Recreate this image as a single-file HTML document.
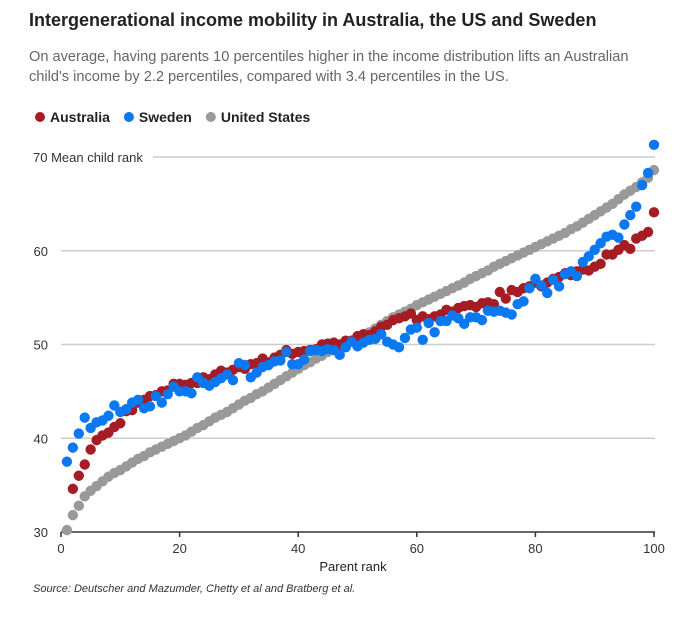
<!DOCTYPE html>
<html><head><meta charset="utf-8"><style>
body{margin:0;background:#fff;font-family:"Liberation Sans",sans-serif;}
#wrap{position:relative;width:691px;height:617px;overflow:hidden;}
.t{position:absolute;white-space:nowrap;}
</style></head><body>
<div id="wrap">
<div class="t" style="left:29px;top:10px;font-size:18px;font-weight:bold;color:#222;">Intergenerational income mobility in Australia, the US and Sweden</div>
<div class="t" style="left:29px;top:47px;font-size:14.6px;line-height:20px;color:#666;">On average, having parents 10 percentiles higher in the income distribution lifts an Australian<br>child's income by 2.2 percentiles, compared with 3.4 percentiles in the US.</div>
<svg id="chart" width="691" height="617" style="position:absolute;left:0;top:0"></svg>
<div class="t" style="left:33px;top:583px;font-size:11px;font-style:italic;color:#333;">Source: Deutscher and Mazumder, Chetty et al and Bratberg et al.</div>
</div>
<script>
const xTicks=[0,20,40,60,80,100];
const yTicks=[30,40,50,60,70];
const usVals=[30.2,31.8,32.8,33.8,34.4,34.9,35.4,35.9,36.3,36.6,37.0,37.4,37.8,38.1,38.5,38.8,39.1,39.4,39.7,40.0,40.3,40.7,41.1,41.4,41.8,42.2,42.5,42.8,43.2,43.6,44.0,44.3,44.7,45.0,45.4,45.8,46.2,46.6,47.0,47.4,47.8,48.1,48.5,48.8,49.2,49.5,49.8,50.1,50.4,50.7,51.0,51.3,51.7,52.1,52.5,52.9,53.2,53.5,53.8,54.2,54.5,54.8,55.1,55.4,55.7,56.0,56.3,56.6,57.0,57.3,57.6,57.9,58.3,58.6,58.9,59.2,59.5,59.8,60.1,60.4,60.7,61.0,61.3,61.6,61.9,62.3,62.6,63.0,63.4,63.8,64.2,64.6,65.0,65.5,66.0,66.4,66.8,67.3,67.8,68.6];
const auVals=[null,34.6,36.0,37.2,38.8,39.8,40.3,40.6,41.2,41.6,42.9,43.0,43.8,44.1,44.5,44.6,45.0,45.1,45.8,45.8,45.7,45.9,45.9,46.5,46.3,46.8,47.2,47.0,47.3,47.6,47.4,47.9,48.0,48.5,48.1,48.6,48.9,49.4,49.0,49.2,49.3,49.4,49.5,50.0,50.1,50.2,50.0,50.4,50.4,50.9,51.1,51.0,51.4,51.9,52.1,52.6,52.8,53.0,53.3,52.6,53.0,52.7,53.0,53.2,53.7,53.5,53.9,54.1,54.2,54.0,54.4,54.5,54.3,55.6,54.9,55.8,55.6,56.0,56.2,56.6,56.2,56.6,57.0,57.2,57.6,57.4,57.8,58.0,57.9,58.3,58.6,59.6,59.6,60.1,60.6,60.2,61.3,61.6,62.0,64.1];
const seVals=[37.5,39.0,40.5,42.2,41.1,41.7,41.9,42.4,43.5,42.8,43.1,43.8,44.1,43.2,43.4,44.5,43.8,44.7,45.5,45.0,45.0,44.8,46.5,45.9,45.6,46.0,46.4,46.8,46.2,48.0,47.8,46.5,47.0,47.6,47.8,48.2,48.3,49.2,47.9,47.9,48.4,49.3,49.4,49.3,49.5,49.4,48.9,49.7,50.3,49.8,50.2,50.5,50.6,51.1,50.3,50.0,49.7,50.7,51.6,51.8,50.5,52.3,51.3,52.5,52.5,53.1,52.8,52.2,52.9,52.9,52.6,53.6,53.5,53.6,53.4,53.2,54.3,54.6,56.0,57.0,56.3,55.5,56.9,56.2,57.5,57.8,57.3,58.8,59.4,60.1,60.8,61.5,61.7,61.4,62.8,63.8,64.7,67.0,68.3,71.3];
const series=[{name:'Australia',vals:auVals,color:'#a61c24'},{name:'Sweden',vals:seVals,color:'#0a78f0'},{name:'United States',vals:usVals,color:'#999999'}];
const NS='http://www.w3.org/2000/svg';
const svg=document.getElementById('chart');
const xS=v=>61+v*5.93;
const yS=v=>532-(v-30)*9.375;
function mk(tag,attrs){const e=document.createElementNS(NS,tag);for(const k in attrs)e.setAttribute(k,attrs[k]);svg.appendChild(e);return e;}
yTicks.forEach(t=>{
  if(t>30){const g=mk('line',{x1:t===70?153:61,x2:655,y1:yS(t),y2:yS(t),stroke:'#ccc','stroke-width':1.5});
  
  }
  const l=mk('text',{x:t===70?33:48,y:yS(t)+5,'font-size':13,fill:'#333','text-anchor':t===70?'start':'end'});
  l.textContent=t===70?'70 Mean child rank':String(t);
  
  
});
const ax=mk('line',{x1:61,x2:655,y1:532,y2:532,stroke:'#333','stroke-width':1.5});


xTicks.forEach(t=>{
  const tk=mk('line',{x1:xS(t),x2:xS(t),y1:532,y2:537,stroke:'#333','stroke-width':1.5});
  
  
  const l=mk('text',{x:xS(t),y:553,'font-size':13,fill:'#333','text-anchor':'middle'});
  l.textContent=String(t);
  
  
});
const xt=mk('text',{x:353,y:571,'font-size':13,fill:'#222','text-anchor':'middle'});
xt.textContent='Parent rank';


let lx=35;
series.forEach(s=>{
  const c=mk('circle',{cx:lx+5,cy:117,r:5,fill:s.color});
  
  
  const t=mk('text',{x:lx+15,y:122,'font-size':14,'font-weight':'bold',fill:'#222'});
  t.textContent=s.name;
  
  
  lx+=15+t.getComputedTextLength()+14;
});
[series[2],series[0],series[1]].forEach(s=>{
  s.vals.forEach((v,i)=>{
    if(v==null)return;
    const c=mk('circle',{cx:xS(i+1),cy:yS(v),r:5.2,fill:s.color});
    
    
  });
});
</script>
</body></html>
